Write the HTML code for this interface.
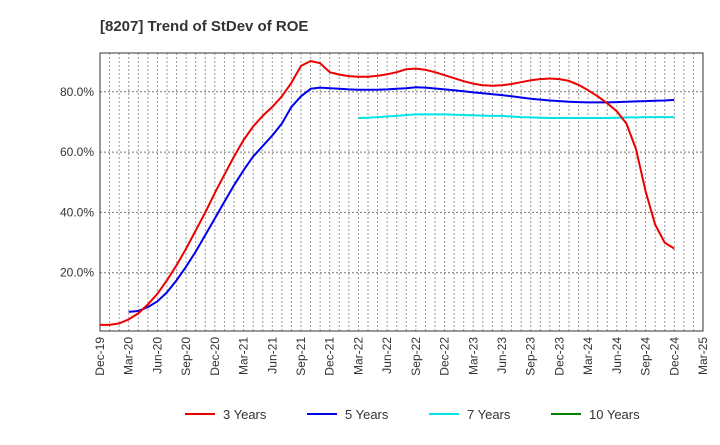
<!DOCTYPE html>
<html><head><meta charset="utf-8"><style>
body{margin:0;background:#fff;font-family:"Liberation Sans",Arial,sans-serif;}
</style></head><body>
<svg id="chart" width="720" height="440" xmlns="http://www.w3.org/2000/svg" font-family="Liberation Sans, Arial, sans-serif">
<text x="100" y="31" font-size="15" font-weight="bold" fill="#333">[8207]  Trend of StDev of ROE</text>
<g id="grid"></g><g id="axes"></g><g id="series"></g><g id="legend"></g>
</svg>
<script>
const xLabels=["Dec-19","Mar-20","Jun-20","Sep-20","Dec-20","Mar-21","Jun-21","Sep-21","Dec-21","Mar-22","Jun-22","Sep-22","Dec-22","Mar-23","Jun-23","Sep-23","Dec-23","Mar-24","Jun-24","Sep-24","Dec-24","Mar-25"];
const yTicks=[20,40,60,80];
const yTickLabels=["20.0%","40.0%","60.0%","80.0%"];
const red3=[2.7,2.7,3.2,4.5,6.5,9.5,13,17.5,22.5,28,34,40,46.5,52.5,58.5,64,68.5,72,75,78.5,83,88.6,90.2,89.5,86.5,85.7,85.2,85,85,85.3,85.8,86.5,87.5,87.7,87.3,86.5,85.5,84.5,83.5,82.7,82.2,82,82.2,82.6,83.2,83.8,84.2,84.4,84.2,83.6,82.3,80.5,78.5,76.2,73.5,69.5,61,47,36,30,28];
const blue5=[null,null,null,7,7.3,8.6,10.5,13.5,17.5,22,27,32.5,38,43.5,49,54,58.5,62,65.5,69.5,75,78.5,81,81.4,81.2,81,80.8,80.7,80.7,80.7,80.8,81,81.2,81.5,81.4,81.1,80.8,80.5,80.2,79.8,79.5,79.2,78.9,78.5,78.1,77.7,77.4,77.1,76.9,76.7,76.6,76.5,76.5,76.5,76.6,76.7,76.8,76.9,77,77.1,77.3];
const cyan7=[null,null,null,null,null,null,null,null,null,null,null,null,null,null,null,null,null,null,null,null,null,null,null,null,null,null,null,71.3,71.4,71.6,71.8,72,72.3,72.5,72.5,72.5,72.5,72.4,72.3,72.2,72.1,72,72,71.8,71.6,71.5,71.4,71.3,71.3,71.3,71.3,71.3,71.3,71.3,71.4,71.5,71.5,71.6,71.6,71.6,71.6];
const green10=[];
const NS="http://www.w3.org/2000/svg";
const L=100,R=703,T=53,B=331,months=63;
const xs=m=>L+(R-L)*m/months;
const ys=v=>333-v*3.015;
function mk(tag,attrs,parent){const e=document.createElementNS(NS,tag);for(const k in attrs)e.setAttribute(k,attrs[k]);parent.appendChild(e);return e;}
const grid=document.getElementById('grid'),axes=document.getElementById('axes'),ser=document.getElementById('series'),leg=document.getElementById('legend');
for(let m=1;m<months;m++){const l=mk('line',{x1:xs(m),x2:xs(m),y1:T,y2:B,stroke:'#999','stroke-dasharray':'2,2','stroke-width':1},grid);

}
yTicks.forEach((v,i)=>{const l=mk('line',{x1:L,x2:R,y1:ys(v),y2:ys(v),stroke:'#777','stroke-dasharray':'2,2','stroke-width':1},grid);


const t=mk('text',{x:L-6,y:ys(v)+4,'text-anchor':'end','font-size':12,fill:'#333'},axes);t.textContent=yTickLabels[i];

});
const fr=mk('rect',{x:L,y:T,width:R-L,height:B-T,fill:'none',stroke:'#333','stroke-width':1},axes);


xLabels.forEach((s,i)=>{const x=xs(i*3);const t=mk('text',{x:0,y:0,'text-anchor':'end','font-size':12,fill:'#333',transform:`translate(${x+4},${B+6}) rotate(-90)`},axes);t.textContent=s;

});
function line(arr,color,name){let d='';let pen=false;arr.forEach((v,m)=>{if(v==null){pen=false;return;}d+=(pen?'L':'M')+xs(m).toFixed(1)+','+ys(v).toFixed(1);pen=true;});
if(!d)return;const p=mk('path',{d:d,fill:'none',stroke:color,'stroke-width':2,'stroke-linejoin':'round'},ser);

}
line(cyan7,'#00e5e5','line-7-years');line(blue5,'#0000ee','line-5-years');line(red3,'#ee0000','line-3-years');line(green10,'#008000','line-10-years');
const items=[["3 Years","#ee0000",185],["5 Years","#0000ee",307],["7 Years","#00e5e5",429],["10 Years","#008000",551]];
items.forEach(it=>{const g=mk('g',{},leg);


mk('line',{x1:it[2],x2:it[2]+30,y1:414,y2:414,stroke:it[1],'stroke-width':2},g);
const t=mk('text',{x:it[2]+38,y:419,'font-size':13,fill:'#333'},g);t.textContent=it[0];});
</script>
</body></html>
